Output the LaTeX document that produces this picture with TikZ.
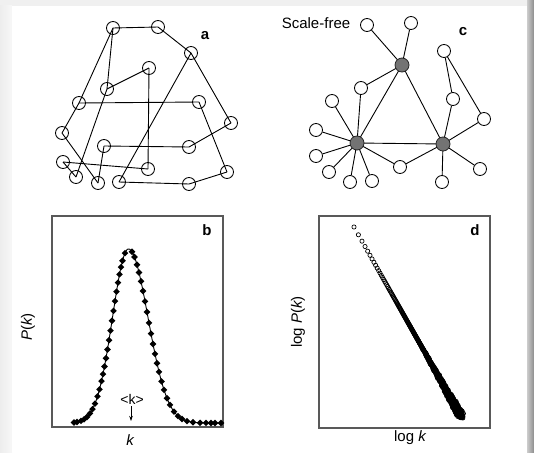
\documentclass[tikz,border=0pt]{standalone}
\usepackage{fontspec}
\setmainfont{Liberation Sans}
\usetikzlibrary{arrows.meta}
\begin{document}
\begin{tikzpicture}[x=1pt,y=-1pt,
  vtx/.style={circle,draw,line width=0.85pt,minimum size=13pt,inner sep=0pt},
  hub/.style={circle,draw=black!85,fill=black!55,line width=0.8pt,minimum size=14pt,inner sep=0pt},
  edge/.style={line width=0.9pt},
  lbl/.style={font=\fontsize{15}{15}\selectfont\bfseries,inner sep=0pt},
  axl/.style={font=\fontsize{15}{15}\selectfont,inner sep=0pt},
  frame/.style={draw=black!65,line width=1.1pt}]
\useasboundingbox (0,0) rectangle (534,452);
% background
\fill[black!6] (0,0) rectangle (534,452);
\shade[left color=black!7,right color=black!3] (0,6) rectangle (12,452);
\fill[white] (12,6) rectangle (527,452);
\shade[left color=black!20,right color=black!45] (527,0) rectangle (534,452);

% ---------- panel a ----------
\foreach \n/\x/\y in {1/113/28,2/158/27,3/191/53,4/149/68,5/107/89,6/79/103,7/199/102,
  8/231/123,9/62/133,10/104/146,11/189/147,12/63/162,13/148/169,14/76/177,15/98/183,
  16/119/182,17/189/184,18/227/172}
  \node[vtx] (a\n) at (\x,\y) {};
\foreach \u/\v in {1/2,2/3,1/6,6/9,1/5,5/14,5/4,4/13,6/7,7/18,3/8,3/16,8/11,11/10,10/15,
  9/15,12/13,12/14,16/17,17/18}
  \draw[edge] (a\u.center) -- (a\v.center);
\node[lbl] (la) at (205,36) {a};

% ---------- panel c ----------
\node[axl] (sf) at (316,23) {Scale-free};
\node[lbl] (lc) at (463,32) {c};
\foreach \n/\x/\y in {1/367/25,2/411/23,3/444/51,4/361/88,5/332/101,6/453/99,7/484/119,
  8/316/130,9/316/156,10/329/172,11/350/182,12/372/181,13/400/167,14/442/182,15/480/169}
  \node[vtx] (c\n) at (\x,\y) {};
\coordinate (H1) at (402,65);
\coordinate (H2) at (357,143);
\coordinate (H3) at (443,144);
\foreach \u/\v in {c1/H1,c2/H1,H1/c4,H1/H2,H1/H3,H2/H3,c4/H2,c5/H2,c8/H2,c9/H2,c10/H2,
  c11/H2,c12/H2,H2/c13,c13/H3,c6/H3,c7/H3,c14/H3,c15/H3,c3/c6,c3/c7}
  \draw[edge] (\u) -- (\v);
\node[hub] (h1) at (H1) {};
\node[hub] (h2) at (H2) {};
\node[hub] (h3) at (H3) {};

% ---------- panel b ----------
\draw[frame] (52,216) rectangle (223,427);
\node[lbl] (lb) at (207,230) {b};
\draw[line width=0.9pt,domain=74:221,samples=160]
  plot (\x,{423-174*exp(-((\x-128.5)^2)/(2*(ifthenelse(\x<128.5,16,19.5))^2))});
\foreach \x in {74,77,81,84,87,90,92.5,95,97.5,99.5,101.5,103,104.5,106,107.5,109,110.5,
  112,113.5,115,116.5,118,119.5,121,122.5,125,132,134.5,137,139,141,143,145,147,149,151,
  153,155,157,159,161.5,164,167,170,174,178,182,187,193,200,206,211,215,221}{
  \pgfmathsetmacro\s{ifthenelse(\x<128.5,16,19.5)}
  \pgfmathsetmacro\yy{423-174*exp(-((\x-128.5)^2)/(2*\s*\s))}
  \fill (\x,\yy) +(-3.3,0) -- +(0,-3.3) -- +(3.3,0) -- +(0,3.3) -- cycle;
}
\node[axl,rotate=90] (pk) at (28,327) {\itshape P\upshape(\itshape k\upshape)};
\node[axl] (kx) at (130,440) {\itshape k};
\node[font=\fontsize{14}{14}\selectfont,inner sep=0pt] (mk) at (132,399) {<k>};
\coordinate (mkend) at (131,421);
\draw[line width=0.7pt,-{Stealth[length=5pt,width=3.5pt]}] (mk.south) ++(-1,2) -- (mkend);

% ---------- panel d ----------
\draw[frame] (319,216) rectangle (490,428);
\node[lbl] (ld) at (475,230) {d};
\pgfmathsetseed{7}
\foreach \k in {4,...,900}{
  \pgfmathsetmacro\L{ln(\k/4)}
  \pgfmathsetmacro\px{354+19.7*\L}
  \pgfmathsetmacro\py{227+34.87*\L}
  \pgfmathsetmacro\amp{max(0,\L-3.3)*1.3}
  \pgfmathsetmacro\jx{\px+\amp*rand}
  \pgfmathsetmacro\jy{\py+\amp*rand}
  \draw[line width=0.7pt] (\jx,\jy) circle (2.1pt);
}
\node[axl,rotate=90] (lpk) at (298,322) {log \itshape P\upshape(\itshape k\upshape)};
\node[axl] (lk) at (410,438) {log \itshape k};
\end{tikzpicture}
\end{document}
